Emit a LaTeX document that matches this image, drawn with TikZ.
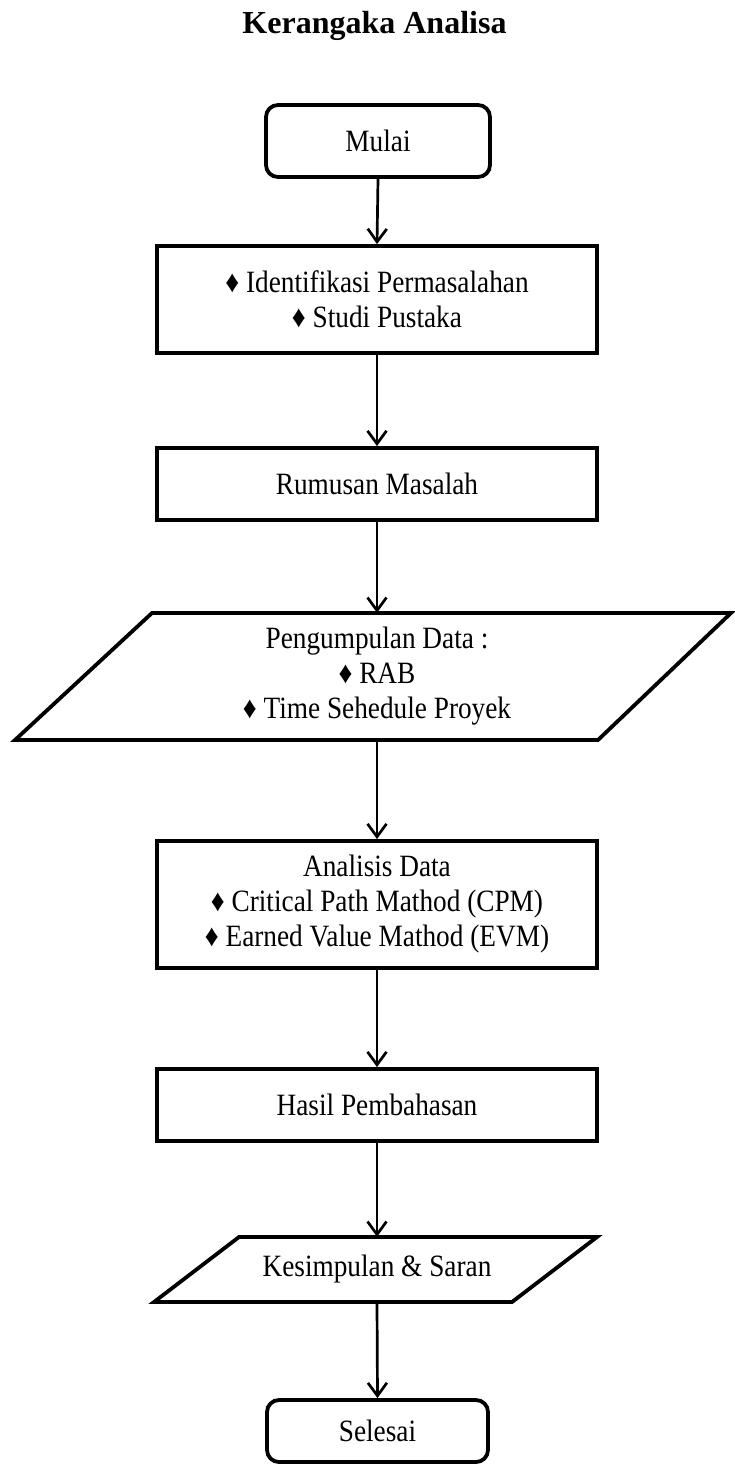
\documentclass[tikz,border=0pt]{standalone}
\usepackage{fontspec}
\setmainfont{Liberation Serif}
\newfontfamily\condfont{Liberation Serif}[FakeStretch=0.88]
\usetikzlibrary{arrows.meta}
\begin{document}
\begin{tikzpicture}[x=1pt,y=-1pt,
  boxfont/.style={font=\condfont\fontsize{31}{35}\selectfont},
  box/.style={draw=black, line width=3.8pt, rectangle, inner sep=0pt, align=center,
    boxfont, minimum width=440pt},
  terminal/.style={box, rounded corners=12pt},
  paratext/.style={inner sep=0pt, align=center, boxfont},
  para/.style={draw=black, line width=3.8pt, line join=miter},
  conn/.style={line width=2.7pt, -{Straight Barb[length=13pt,width=19pt]}}
]
\useasboundingbox (0,0) rectangle (735,1467);

\node[font=\fontsize{32}{36}\selectfont\bfseries, anchor=base] (title) at (374.5,33) {Kerangaka Analisa};

\node[terminal, minimum width=224pt, minimum height=72pt] (mulai) at (378,141) {Mulai};
\node[box, minimum height=107pt] (ident) at (377,299.5) {♦ Identifikasi Permasalahan\\♦ Studi Pustaka};
\node[box, minimum height=72pt] (rumusan) at (377,484) {Rumusan Masalah};

\draw[para] (152,613) -- (731,613) -- (598,740) -- (15,740) -- cycle;
\node[paratext, minimum height=127pt] (data) at (377,676.5) {Pengumpulan Data :\\♦ RAB\\♦ Time Sehedule Proyek};

\node[box, minimum height=127pt] (analisis) at (377,904.5) {Analisis Data\\♦ Critical Path Mathod (CPM)\\♦ Earned Value Mathod (EVM)};
\node[box, minimum height=72pt] (hasil) at (377,1105) {Hasil Pembahasan};

\draw[para] (239,1237) -- (597,1237) -- (512,1302) -- (154,1302) -- cycle;
\node[paratext, minimum height=65pt] (kes) at (377,1269.5) {Kesimpulan \& Saran};

\node[terminal, minimum width=221pt, minimum height=62pt] (selesai) at (377.5,1431) {Selesai};

\draw[conn] (mulai.south) -- (ident.north);
\draw[conn] (ident.south) -- (rumusan.north);
\draw[conn] (rumusan.south) -- (data.north);
\draw[conn] (data.south) -- (analisis.north);
\draw[conn] (analisis.south) -- (hasil.north);
\draw[conn] (hasil.south) -- (kes.north);
\draw[conn] (kes.south) -- (selesai.north);
\end{tikzpicture}
\end{document}
